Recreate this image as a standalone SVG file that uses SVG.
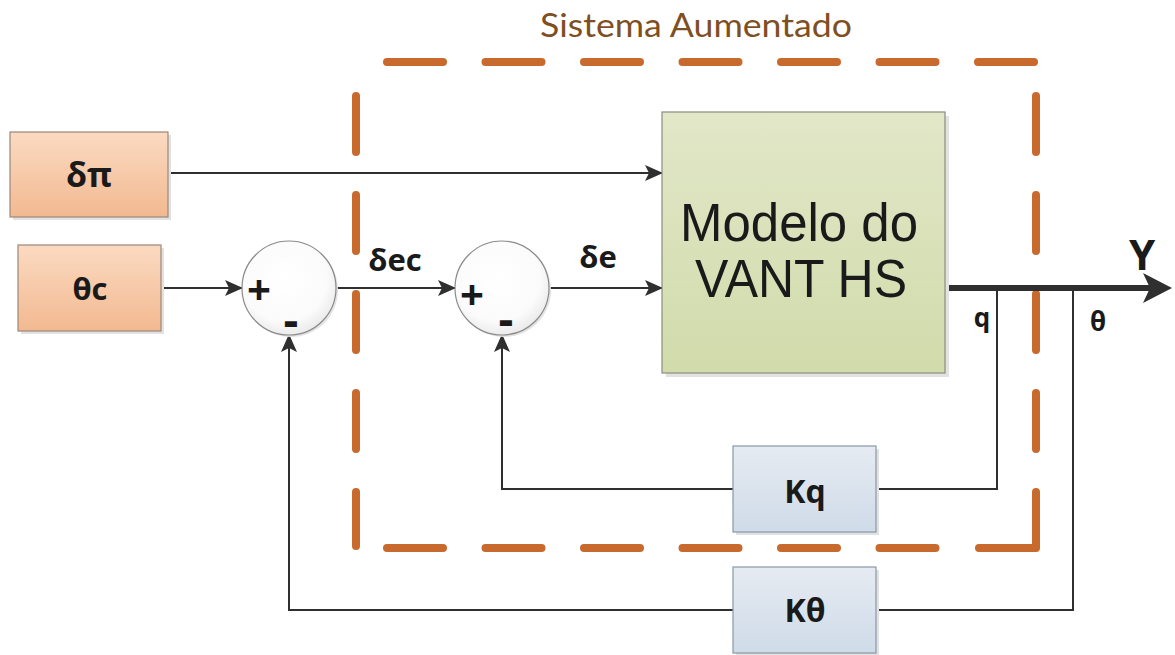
<svg xmlns="http://www.w3.org/2000/svg" width="1175" height="655" viewBox="0 0 1175 655">
<defs>
<linearGradient id="gPeach" x1="0" y1="0" x2="0" y2="1"><stop offset="0" stop-color="#fbdac2"/><stop offset="1" stop-color="#f2b990"/></linearGradient>
<linearGradient id="gGreen" x1="0" y1="0" x2="0" y2="1"><stop offset="0" stop-color="#e2e7c8"/><stop offset="1" stop-color="#d1dbab"/></linearGradient>
<linearGradient id="gBlue" x1="0" y1="0" x2="0" y2="1"><stop offset="0" stop-color="#e6ebf2"/><stop offset="1" stop-color="#cfdbe8"/></linearGradient>
<radialGradient id="gCirc" cx="0.45" cy="0.4" r="0.65"><stop offset="0" stop-color="#ffffff"/><stop offset="0.7" stop-color="#fbfbfb"/><stop offset="1" stop-color="#e6e6e6"/></radialGradient>
<marker id="arr" viewBox="0 0 18 16" refX="17" refY="8" markerWidth="18" markerHeight="16" markerUnits="userSpaceOnUse" orient="auto">
<path d="M0 0 L18 8 L0 16 L4 8 Z" fill="#2f2f2f"/>
</marker>
</defs>
<style>
.box{stroke-width:1.2}
.peach{fill:url(#gPeach);stroke:#9c8878}
.green{fill:url(#gGreen);stroke:#8c8c80}
.blue{fill:url(#gBlue);stroke:#8898a8}
.shadow{fill:#e2e2e2}
.circ{fill:url(#gCirc);stroke:#8a8a8a;stroke-width:1.2}
.lbl{font-family:"Open Sans","Liberation Sans",sans-serif;font-weight:bold;fill:#1a1a1a;text-anchor:middle}
.big{font-family:"Liberation Sans",Arial,sans-serif;fill:#1a1a1a;text-anchor:middle;font-size:53px}
.sign{font-family:"Open Sans","Liberation Sans",sans-serif;font-weight:bold;fill:#1a1a1a;text-anchor:middle}
.wire{fill:none;stroke:#2f2f2f;stroke-width:2}
.dash{fill:none;stroke:#c8692e;stroke-width:8;stroke-linecap:round;stroke-linejoin:round}
</style>
<rect width="1175" height="655" fill="#ffffff"/>

<g id="boundary">
<line class="dash" x1="387" y1="62" x2="1034" y2="62" stroke-dasharray="56 42.5"/>
<line class="dash" x1="356" y1="96" x2="356" y2="546" stroke-dasharray="56 43"/>
<line class="dash" x1="1036" y1="96" x2="1036" y2="449" stroke-dasharray="56 43"/>
<line class="dash" x1="387" y1="548" x2="936" y2="548" stroke-dasharray="56 42.5"/>
<path class="dash" d="M979 548 H1036 V492"/>
<text x="696" y="37" font-family="Lato,'Open Sans',sans-serif" font-size="32" fill="#7f4f24" text-anchor="middle" textLength="312" lengthAdjust="spacingAndGlyphs">Sistema Aumentado</text>
</g>

<g id="connectors">
<line class="wire" x1="168" y1="173" x2="662" y2="173" marker-end="url(#arr)"/>
<line class="wire" x1="161" y1="288" x2="242" y2="288" marker-end="url(#arr)"/>
<line class="wire" x1="336" y1="288" x2="455" y2="288" marker-end="url(#arr)"/>
<line class="wire" x1="549" y1="288" x2="662" y2="288" marker-end="url(#arr)"/>
<path d="M945 288 H1150" fill="none" stroke="#2f2f2f" stroke-width="6" stroke-linecap="round"/>
<path d="M1172 288 L1143 273 L1150 288 L1143 303 Z" fill="#2f2f2f"/>
<path class="wire" d="M997 289 V489 H876"/>
<path class="wire" d="M1073 289 V610 H876"/>
<path class="wire" d="M733 489 H502 V335" marker-end="url(#arr)"/>
<path class="wire" d="M733 610 H289 V335" marker-end="url(#arr)"/>
<text class="lbl" x="395" y="271" font-size="31">δec</text>
<text class="lbl" x="598" y="268" font-size="31">δe</text>
<text class="lbl" x="982" y="327" font-size="26">q</text>
<text class="lbl" x="1098" y="331" font-size="26">θ</text>
<text class="lbl" x="1142" y="270" font-size="42">Y</text>
</g>

<g id="n-dpi">
<rect class="shadow" x="13" y="135" width="158" height="85"/>
<rect class="box peach" x="10" y="132" width="158" height="85"/>
<text class="lbl" x="89" y="187" font-size="34">δπ</text>
</g>

<g id="n-thetac">
<rect class="shadow" x="21" y="248" width="143" height="86"/>
<rect class="box peach" x="18" y="245" width="143" height="86"/>
<text class="lbl" x="90" y="300" font-size="31">θc</text>
</g>

<g id="n-sum1">
<circle cx="291" cy="290" r="47" fill="#e4e4e4"/>
<circle class="circ" cx="289" cy="288" r="47"/>
<text class="sign" x="259" y="305" font-size="42">+</text>
<text class="sign" x="291" y="337" font-size="46">-</text>
</g>

<g id="n-sum2">
<circle cx="504" cy="290" r="47" fill="#e4e4e4"/>
<circle class="circ" cx="502" cy="288" r="47"/>
<text class="sign" x="472" y="310" font-size="42">+</text>
<text class="sign" x="506" y="336" font-size="46">-</text>
</g>

<g id="n-modelo">
<rect class="shadow" x="666" y="116" width="283" height="261"/>
<rect class="box green" x="662" y="112" width="283" height="261"/>
<text class="big" x="799" y="241" textLength="238" lengthAdjust="spacingAndGlyphs">Modelo do</text>
<text class="big" x="801" y="297" textLength="212" lengthAdjust="spacingAndGlyphs">VANT HS</text>
</g>

<g id="n-kq">
<rect class="shadow" x="736" y="449" width="143" height="86"/>
<rect class="box blue" x="733" y="446" width="143" height="86"/>
<text class="lbl" x="805" y="503" font-size="32">Kq</text>
</g>

<g id="n-ktheta">
<rect class="shadow" x="736" y="570" width="143" height="86"/>
<rect class="box blue" x="733" y="567" width="143" height="86"/>
<text class="lbl" x="805" y="622" font-size="32">Kθ</text>
</g>
</svg>
